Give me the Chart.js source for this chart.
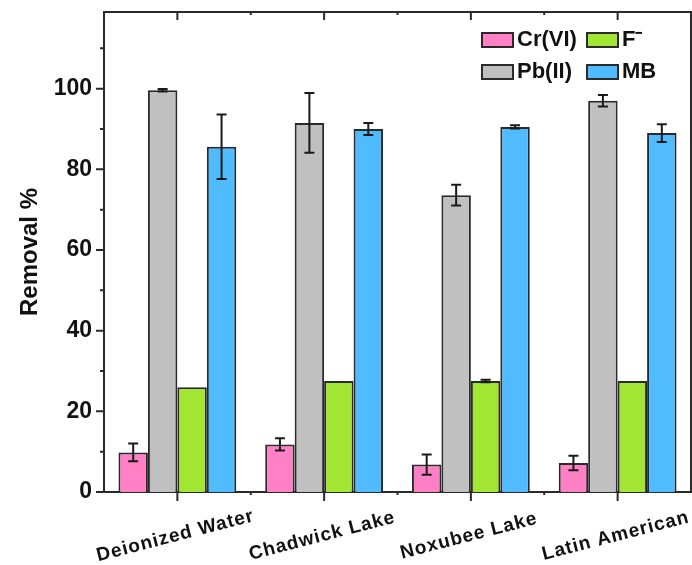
<!DOCTYPE html>
<html>
<head>
<meta charset="utf-8">
<script src="https://cdn.jsdelivr.net/npm/chart.js@4.4.1/dist/chart.umd.min.js"></script>
<style>
  body { margin: 0; background: #fff; }
  #wrap { width: 692px; height: 565px; }
</style>
</head>
<body>
<div id="wrap"><canvas id="chart" width="692" height="565"></canvas></div>
<script>
// data
const categories = ["Deionized Water", "Chadwick Lake", "Noxubee Lake", "Latin American"];
const seriesNames = ["Cr(VI)", "Pb(II)", "F\u207B", "MB"];
const crValues = [9.8, 11.8, 6.8, 7.2];
const crErrors = [2.2, 1.5, 2.5, 1.8];
const pbValues = [99.6, 91.5, 73.6, 97.0];
const pbErrors = [0.3, 7.4, 2.6, 1.4];
const fValues = [26.0, 27.5, 27.5, 27.5];
const fErrors = [null, null, 0.3, null];
const mbValues = [85.6, 90.0, 90.5, 89.0];
const mbErrors = [8.0, 1.5, 0.4, 2.2];
const yMajorTicks = [0, 20, 40, 60, 80, 100];
const yMinorTicks = [10, 30, 50, 70, 90, 110];

const colors = ["#ff80c4", "#c0c0c0", "#a3e533", "#50bbff"];
const edge = "#2a2a2a";

// error bars, drawn through the y scale
const errorBars = {
    id: "errorBars",
    afterDatasetsDraw(chart) {
        const ctx = chart.ctx;
        const y = chart.scales.y;
        ctx.save();
        ctx.strokeStyle = "#1a1a1a";
        ctx.lineWidth = 2;
        chart.data.datasets.forEach((ds, i) => {
            const meta = chart.getDatasetMeta(i);
            meta.data.forEach((bar, j) => {
                const e = ds.errors[j];
                if (e == null) return;
                const v = ds.data[j];
                const top = y.getPixelForValue(v + e);
                const bot = y.getPixelForValue(v - e);
                ctx.beginPath();
                ctx.moveTo(bar.x, top);
                ctx.lineTo(bar.x, bot);
                ctx.moveTo(bar.x - 5, top);
                ctx.lineTo(bar.x + 5, top);
                ctx.moveTo(bar.x - 5, bot);
                ctx.lineTo(bar.x + 5, bot);
                ctx.stroke();
            });
        });
        ctx.restore();
    }
};

// frame, tick marks, slanted category labels and the legend box
const frame = {
    id: "frame",
    afterDraw(chart) {
        const ctx = chart.ctx;
        const a = chart.chartArea;
        const x = chart.scales.x;
        const y = chart.scales.y;
        ctx.save();
        ctx.strokeStyle = edge;
        ctx.lineWidth = 2;
        ctx.beginPath();
        ctx.moveTo(a.left, a.top);
        ctx.lineTo(a.right, a.top);
        ctx.lineTo(a.right, a.bottom);
        ctx.stroke();

        // y ticks (outside)
        ctx.beginPath();
        y.ticks.forEach(t => {
            const py = y.getPixelForValue(t.value);
            const len = yMajorTicks.includes(t.value) ? 8 : 4;
            ctx.moveTo(a.left - len, py);
            ctx.lineTo(a.left, py);
        });
        // x ticks: majors at categories, minors between them
        categories.forEach((c, i) => {
            const px = x.getPixelForValue(i);
            ctx.moveTo(px, a.bottom);
            ctx.lineTo(px, a.bottom + 9);
            ctx.moveTo(px, a.top);
            ctx.lineTo(px, a.top + 8);
            if (i < categories.length - 1) {
                const mx = (px + x.getPixelForValue(i + 1)) / 2;
                ctx.moveTo(mx, a.bottom);
                ctx.lineTo(mx, a.bottom + 3);
                ctx.moveTo(mx, a.top);
                ctx.lineTo(mx, a.top + 3);
            }
        });
        ctx.stroke();

        // category labels
        ctx.fillStyle = "#111";
        ctx.font = "bold 19px 'Liberation Sans', Arial, sans-serif";
        ctx.textAlign = "center";
        ctx.textBaseline = "middle";
        if ("letterSpacing" in ctx) ctx.letterSpacing = "1px";
        categories.forEach((c, i) => {
            const px = x.getPixelForValue(i);
            ctx.save();
            ctx.translate(px - 2, a.bottom + 44);
            ctx.rotate(-14.5 * Math.PI / 180);
            ctx.fillText(c, 0, 0);
            ctx.restore();
        });
        if ("letterSpacing" in ctx) ctx.letterSpacing = "0px";

        // legend: two columns, Cr/Pb then F/MB
        const order = [[0, 1], [2, 3]];
        const colX = [482, 587];
        const rowY = [40, 72];
        ctx.font = "bold 22px 'Liberation Sans', Arial, sans-serif";
        ctx.textAlign = "left";
        ctx.lineWidth = 2;
        order.forEach((col, ci) => {
            col.forEach((di, ri) => {
                const ds = chart.data.datasets[di];
                const bx = colX[ci], by = rowY[ri] - 7;
                ctx.fillStyle = ds.backgroundColor;
                ctx.fillRect(bx, by, 31, 14);
                ctx.strokeStyle = edge;
                ctx.strokeRect(bx, by, 31, 14);
                ctx.fillStyle = "#111";
                ctx.fillText(ds.label, bx + 35, rowY[ri]);
            });
        });
        ctx.restore();
    }
};

const values = [crValues, pbValues, fValues, mbValues];
const errors = [crErrors, pbErrors, fErrors, mbErrors];

new Chart(document.getElementById("chart"), {
    type: "bar",
    data: {
        labels: categories,
        datasets: seriesNames.map((name, i) => ({
            label: name,
            data: values[i],
            errors: errors[i],
            backgroundColor: colors[i],
            borderColor: edge,
            borderWidth: 2,
            categoryPercentage: 0.803,
            barPercentage: 1.0
        }))
    },
    options: {
        responsive: false,
        animation: false,
        layout: { padding: { top: 12, right: 1, left: 0, bottom: 0 } },
        plugins: {
            legend: { display: false },
            tooltip: { enabled: false }
        },
        scales: {
            x: {
                grid: { display: false },
                border: { color: edge, width: 2 },
                ticks: { display: false },
                afterFit(scale) { scale.height = 73; }
            },
            y: {
                min: 0,
                max: 119,
                afterBuildTicks(scale) {
                    scale.ticks = yMajorTicks.concat(yMinorTicks)
                        .sort((p, q) => p - q)
                        .map(v => ({ value: v }));
                },
                grid: { display: false, drawTicks: false },
                border: { color: edge, width: 2 },
                ticks: {
                    padding: 12,
                    color: "#111",
                    font: { family: "'Liberation Sans', Arial, sans-serif", size: 23, weight: "bold" },
                    callback: v => yMajorTicks.includes(v) ? String(v) : ""
                },
                title: {
                    display: true,
                    text: "Removal %",
                    color: "#111",
                    font: { family: "'Liberation Sans', Arial, sans-serif", size: 24, weight: "bold" },
                    padding: { top: 16, bottom: 0 }
                },
                afterFit(scale) {
                    scale.width = 104;
                    scale.paddingTop = 0;
                    scale.paddingBottom = 0;
                }
            }
        }
    },
    plugins: [errorBars, frame]
});
</script>
</body>
</html>
